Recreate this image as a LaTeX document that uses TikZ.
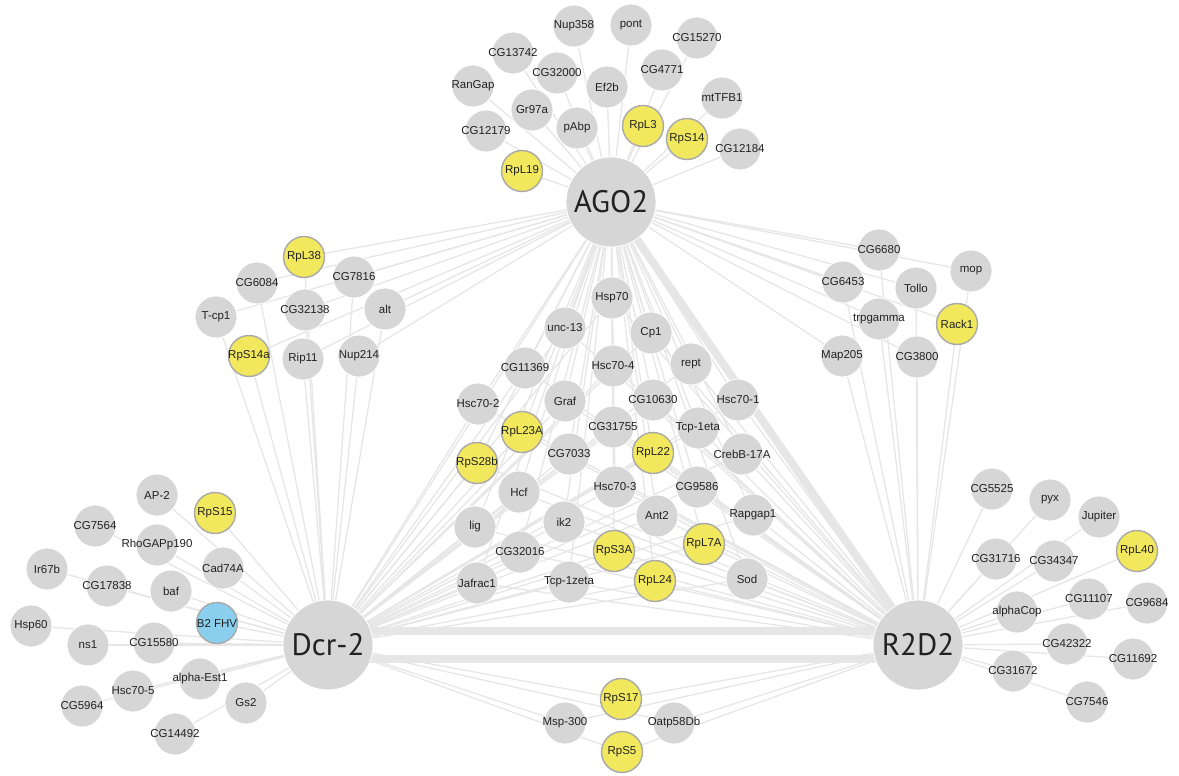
\documentclass[tikz,border=0pt]{standalone}
\usepackage{fontspec}
\setmainfont{Liberation Sans}
\newfontfamily\hubfont{PT Sans}
\usetikzlibrary{backgrounds}
\definecolor{nodegray}{HTML}{D6D6D6}
\definecolor{edgegray}{HTML}{E6E6E6}
\definecolor{ylw}{HTML}{F2E85E}
\definecolor{ylwborder}{HTML}{A9A9A9}
\definecolor{blu}{HTML}{8BCFEE}
\definecolor{txt}{HTML}{222222}
\tikzset{
  gn/.style={circle, minimum size=42pt, inner sep=0pt, fill=nodegray, draw=white, line width=0.8pt},
  yn/.style={gn, fill=ylw, draw=ylwborder, line width=1.4pt, minimum size=41pt},
  bn/.style={gn, fill=blu, draw=ylwborder, line width=1.4pt, minimum size=41pt},
  lbl/.style={text=txt, font=\fontsize{11.5}{13}\selectfont, inner sep=0pt},
  hub/.style={circle, minimum size=90pt, inner sep=0pt, fill=nodegray, draw=white, line width=0.8pt,
    text=txt, font=\hubfont\fontsize{31}{33}\selectfont},
  edge/.style={draw=edgegray, line width=1.3pt},
  band/.style={draw=edgegray, line width=8pt},
}
\newcommand\nd[4]{\node[#1, label={[lbl]center:#4}] (#2) at (#3) {};}
\begin{document}
\begin{tikzpicture}[x=1pt, y=-1pt]
\useasboundingbox (0,0) rectangle (1179,776);
% hubs
\node[hub] (AGO2) at (611,202) {AGO2};
\node[hub] (Dcr) at (328,645) {Dcr-2};
\node[hub] (R2D2) at (918,645) {R2D2};
% AGO2 top group
\nd{gn}{Nup358}{574,26}{Nup358}
\nd{gn}{pont}{631,25}{pont}
\nd{gn}{CG15270}{697,38}{CG15270}
\nd{gn}{CG13742}{513,53}{CG13742}
\nd{gn}{CG32000}{557,73}{CG32000}
\nd{gn}{Ef2b}{607,87}{Ef2b}
\nd{gn}{CG4771}{662,70}{CG4771}
\nd{gn}{mtTFB1}{722,98}{mtTFB1}
\nd{gn}{RanGap}{473,86}{RanGap}
\nd{gn}{Gr97a}{532,110}{Gr97a}
\nd{gn}{pAbp}{577,128}{pAbp}
\nd{yn}{RpL3}{643,126}{RpL3}
\nd{yn}{RpS14}{687,139}{RpS14}
\nd{gn}{CG12184}{740,149}{CG12184}
\nd{gn}{CG12179}{486,131}{CG12179}
\nd{yn}{RpL19}{522,171}{RpL19}
% upper left group
\nd{yn}{RpL38}{304,257}{RpL38}
\nd{gn}{CG6084}{257,283}{CG6084}
\nd{gn}{CG7816}{354,277}{CG7816}
\nd{gn}{T-cp1}{216,317}{T-cp1}
\nd{gn}{CG32138}{305,310}{CG32138}
\nd{gn}{alt}{385,309}{alt}
\nd{yn}{RpS14a}{249,356}{RpS14a}
\nd{gn}{Rip11}{303,359}{Rip11}
\nd{gn}{Nup214}{359,356}{Nup214}
% upper right group
\nd{gn}{CG6680}{879,250}{CG6680}
\nd{gn}{mop}{971,271}{mop}
\nd{gn}{CG6453}{843,282}{CG6453}
\nd{gn}{Tollo}{916,288}{Tollo}
\nd{gn}{trpgamma}{879,319}{trpgamma}
\nd{yn}{Rack1}{957,324}{Rack1}
\nd{gn}{Map205}{842,356}{Map205}
\nd{gn}{CG3800}{917,357}{CG3800}
% central group
\nd{gn}{Hsp70}{612,298}{Hsp70}
\nd{gn}{unc-13}{565,328}{unc-13}
\nd{gn}{Cp1}{651,333}{Cp1}
\nd{gn}{CG11369}{525,368}{CG11369}
\nd{gn}{Hsc70-4}{613,366}{Hsc70-4}
\nd{gn}{rept}{691,364}{rept}
\nd{gn}{Hsc70-2}{478,404}{Hsc70-2}
\nd{gn}{Graf}{565,401}{Graf}
\nd{gn}{CG10630}{653,400}{CG10630}
\nd{gn}{Hsc70-1}{738,400}{Hsc70-1}
\nd{yn}{RpL23A}{522,432}{RpL23A}
\nd{gn}{CG31755}{613,427}{CG31755}
\nd{gn}{Tcp-1eta}{698,428}{Tcp-1eta}
\nd{yn}{RpS28b}{477,463}{RpS28b}
\nd{gn}{CG7033}{569,454}{CG7033}
\nd{yn}{RpL22}{653,453}{RpL22}
\nd{gn}{CrebB-17A}{742,454}{CrebB-17A}
\nd{gn}{Hcf}{519,492}{Hcf}
\nd{gn}{Hsc70-3}{615,487}{Hsc70-3}
\nd{gn}{CG9586}{697,487}{CG9586}
\nd{gn}{lig}{475,527}{lig}
\nd{gn}{ik2}{564,522}{ik2}
\nd{gn}{Ant2}{657,516}{Ant2}
\nd{gn}{Rapgap1}{753,515}{Rapgap1}
\nd{gn}{CG32016}{520,552}{CG32016}
\nd{yn}{RpS3A}{614,551}{RpS3A}
\nd{yn}{RpL7A}{704,544}{RpL7A}
\nd{gn}{Jafrac1}{477,583}{Jafrac1}
\nd{gn}{Tcp-1zeta}{569,582}{Tcp-1zeta}
\nd{yn}{RpL24}{655,581}{RpL24}
\nd{gn}{Sod}{747,579}{Sod}
% bottom group
\nd{yn}{RpS17}{621,699}{RpS17}
\nd{gn}{Msp-300}{565,723}{Msp-300}
\nd{gn}{Oatp58Db}{674,723}{Oatp58Db}
\nd{yn}{RpS5}{622,752}{RpS5}
% lower left group
\nd{gn}{AP-2}{157,495}{AP-2}
\nd{yn}{RpS15}{215,513}{RpS15}
\nd{gn}{CG7564}{95,526}{CG7564}
\nd{gn}{RhoGAPp190}{157,545}{RhoGAPp190}
\nd{gn}{Ir67b}{47,569}{Ir67b}
\nd{gn}{Cad74A}{223,568}{Cad74A}
\nd{gn}{CG17838}{107,586}{CG17838}
\nd{gn}{baf}{171,591}{baf}
\nd{bn}{B2FHV}{217,623}{B2 FHV}
\nd{gn}{Hsp60}{31,626}{Hsp60}
\nd{gn}{ns1}{88,645}{ns1}
\nd{gn}{CG15580}{154,643}{CG15580}
\nd{gn}{alpha-Est1}{200,679}{alpha-Est1}
\nd{gn}{Hsc70-5}{133,691}{Hsc70-5}
\nd{gn}{CG5964}{82,706}{CG5964}
\nd{gn}{Gs2}{246,703}{Gs2}
\nd{gn}{CG14492}{175,734}{CG14492}
% lower right group
\nd{gn}{CG5525}{992,489}{CG5525}
\nd{gn}{pyx}{1050,500}{pyx}
\nd{gn}{Jupiter}{1099,517}{Jupiter}
\nd{yn}{RpL40}{1137,551}{RpL40}
\nd{gn}{CG31716}{996,559}{CG31716}
\nd{gn}{CG34347}{1054,561}{CG34347}
\nd{gn}{alphaCop}{1017,612}{alphaCop}
\nd{gn}{CG11107}{1089,599}{CG11107}
\nd{gn}{CG9684}{1147,603}{CG9684}
\nd{gn}{CG42322}{1067,644}{CG42322}
\nd{gn}{CG11692}{1133,659}{CG11692}
\nd{gn}{CG31672}{1013,671}{CG31672}
\nd{gn}{CG7546}{1087,702}{CG7546}
% edges
\begin{scope}[on background layer]
\draw[band] ([yshift=-14pt]Dcr.center) -- ([yshift=-14pt]R2D2.center);
\draw[band] ([yshift=14pt]Dcr.center) -- ([yshift=14pt]R2D2.center);
\draw[band] (AGO2.center) -- (R2D2.center);
\draw[edge] (AGO2.center) -- (Dcr.center);
\foreach \n in {Nup358,pont,CG15270,CG13742,CG32000,Ef2b,CG4771,mtTFB1,RanGap,Gr97a,pAbp,RpL3,RpS14,CG12184,CG12179,RpL19}
  \draw[edge] (\n) -- (AGO2);
\foreach \n in {RpL38,CG6084,CG7816,T-cp1,CG32138,alt,RpS14a,Rip11,Nup214}
  {\draw[edge] (\n) -- (AGO2); \draw[edge] (\n) -- (Dcr);}
\foreach \n in {CG6680,mop,CG6453,Tollo,trpgamma,Rack1,Map205,CG3800}
  {\draw[edge] (\n) -- (AGO2); \draw[edge] (\n) -- (R2D2);}
\foreach \n in {Hsp70,unc-13,Cp1,CG11369,Hsc70-4,rept,Hsc70-2,Graf,CG10630,Hsc70-1,RpL23A,CG31755,Tcp-1eta,RpS28b,CG7033,RpL22,CrebB-17A,Hcf,Hsc70-3,CG9586,lig,ik2,Ant2,Rapgap1,CG32016,RpS3A,RpL7A,Jafrac1,Tcp-1zeta,RpL24,Sod}
  {\draw[edge] (\n) -- (AGO2); \draw[edge] (\n) -- (Dcr); \draw[edge] (\n) -- (R2D2);}
\foreach \n in {RpS17,Msp-300,Oatp58Db,RpS5}
  {\draw[edge] (\n) -- (Dcr); \draw[edge] (\n) -- (R2D2);}
\foreach \n in {AP-2,RpS15,CG7564,RhoGAPp190,Ir67b,Cad74A,CG17838,baf,B2FHV,Hsp60,ns1,CG15580,alpha-Est1,Hsc70-5,CG5964,Gs2,CG14492}
  \draw[edge] (\n) -- (Dcr);
\foreach \n in {CG5525,pyx,Jupiter,RpL40,CG31716,CG34347,alphaCop,CG11107,CG9684,CG42322,CG11692,CG31672,CG7546}
  \draw[edge] (\n) -- (R2D2);
\end{scope}
\end{tikzpicture}
\end{document}
